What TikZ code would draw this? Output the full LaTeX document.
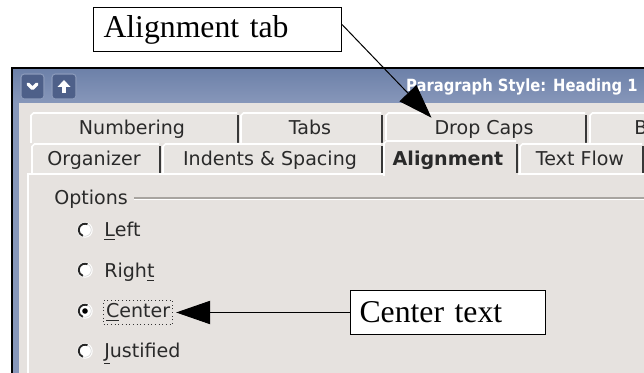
\documentclass[tikz,border=0pt]{standalone}
\usepackage{fontspec}
\setmainfont{Liberation Serif}
\newfontfamily\uifont{DejaVu Sans}
\usetikzlibrary{arrows.meta,calc}
\definecolor{winbg}{HTML}{E6E2DF}
\definecolor{tabbg}{HTML}{E8E5E2}
\definecolor{titletop}{HTML}{6C80A8}
\definecolor{titlebot}{HTML}{8797BA}
\definecolor{btnfill}{HTML}{4E6089}
\definecolor{btnedge}{HTML}{8A99BA}
\definecolor{sepdark}{HTML}{383838}
\definecolor{framedk}{HTML}{A8A4A0}
\definecolor{uitextcol}{HTML}{2A2A2A}
\newcommand\uitabshape[4]{%
  \fill[tabbg] (#1,#4) -- (#1,#2+3) -- (#1+3,#2) -- (#3,#2) -- (#3,#4) -- cycle;
  \draw[white, line width=1.3pt] (#1+1,#4) -- (#1+1,#2+3.5) -- (#1+3.5,#2+1) -- (#3-2,#2+1);
  \draw[sepdark, line width=1.5pt] (#3-1,#2+3) -- (#3-1,#4);
}
\newcommand\radiodeco[2]{%
  \begin{scope}[shift={(#1.center)},x=1pt,y=1pt]
    \fill[white] (0,0) circle (5.8);
    \draw[black!85, line width=1.4pt] (65:4.7) arc[start angle=65,end angle=250,radius=4.7];
    \draw[black!15, line width=0.5pt] (250:4.7) arc[start angle=250,end angle=425,radius=4.7];
    \ifnum#2=1 \fill[black] (0,0) circle (2.1);\fi
  \end{scope}}
\begin{document}
\begin{tikzpicture}[x=0.75pt,y=-0.75pt,
  callout/.style={draw=black, line width=0.75pt, fill=white,
    font=\fontsize{23.8pt}{28pt}\selectfont, anchor=north west, align=left,
    minimum height=33pt, inner ysep=0pt},
  callarrow/.style={draw=black, line width=0.75pt, -{Triangle[length=25.5pt,width=17.5pt]}},
  uitext/.style={font=\uifont\fontsize{14.3pt}{17pt}\selectfont, text=uitextcol, inner sep=0pt, anchor=base},
  uibold/.style={uitext, font=\uifont\bfseries\fontsize{14.3pt}{17pt}\selectfont},
  radio/.style={circle, minimum size=11pt, inner sep=0pt},
  btn/.style={draw=btnedge, fill=btnfill, line width=0.8pt, rounded corners=2.5pt}
]
\useasboundingbox (0,0) rectangle (644,373);
\clip (0,0) rectangle (644,373);
\fill[white] (0,0) rectangle (644,373);

% window body
\fill[winbg] (12,68) rectangle (650,380);
\fill[titlebot] (12,100) rectangle (19,380);
% title bar
\shade[top color=titletop, bottom color=titlebot] (12,68) rectangle (650,103);
\draw[black, line width=0.9pt] (12,380) -- (12,68) -- (650,68);
% buttons
\draw[btn] (21,74) rectangle (44,99);
\draw[btn] (52,74) rectangle (76,99);
\draw[white, line width=2.6pt, line cap=round, line join=round] (28,84) -- (32.5,88.5) -- (37,84);
\fill[white] (57.5,87) -- (64,80) -- (70.5,87) -- cycle;
\fill[white] (62.2,86) rectangle (65.8,93);
\node[font=\uifont\bfseries\fontsize{12.6pt}{14pt}\selectfont, text=white, anchor=base east, inner sep=0pt]
  (title) at (638,92) {\scalebox{0.88}[1]{Paragraph Style: Heading 1}};

% panel edges
\draw[white, line width=1.2pt] (28,380) -- (28,174) -- (384,174);
\draw[white, line width=1.2pt] (517,174) -- (650,174);

% tab row 1
\uitabshape{30}{112}{239}{143}
\uitabshape{240}{112}{383}{143}
\uitabshape{385}{112}{587}{143}
\uitabshape{589}{112}{660}{143}
% tab row 2
\uitabshape{31}{143}{161}{173}
\uitabshape{162}{143}{383}{173}
\uitabshape{519}{143}{644}{173}
\fill[winbg] (383,140) rectangle (518,176);
\draw[white, line width=1.3pt] (384,176) -- (384,143.5) -- (386.5,141) -- (516,141);
\draw[sepdark, line width=1.5pt] (517,144) -- (517,173);

\node[uitext] (tnum) at (132,135) {Numbering};
\node[uitext] (ttabs) at (310,135) {Tabs};
\node[uitext] (tdrop) at (484,135) {Drop Caps};
\node[uitext, anchor=base west] (tb) at (634,135) {B};
\node[uitext] (torg) at (94,166) {Organizer};
\node[uitext] (tind) at (270,166) {Indents \& Spacing};
\node[uibold] (talign) at (448,166) {Alignment};
\node[uitext] (tflow) at (580,166) {Text Flow};

% options frame
\node[uitext, anchor=base west] (opts) at (54,205) {Options};
\draw[framedk, line width=0.8pt] (134,198) -- (650,198);
\draw[white, line width=0.8pt] (134,199.3) -- (650,199.3);

% radio buttons
\node[radio] (rl) at (85,230) {};
\node[radio] (rr) at (85,270) {};
\node[radio] (rc) at (85,311) {};
\node[radio] (rj) at (85,351) {};
\radiodeco{rl}{0}
\radiodeco{rr}{0}
\radiodeco{rc}{1}
\radiodeco{rj}{0}
\node[uitext, anchor=base west] (lleft) at (104,237) {\underline{L}eft};
\node[uitext, anchor=base west] (lright) at (104,278) {Righ\underline{t}};
\node[uitext, anchor=base west, draw=black!80, dotted, line width=0.75pt, inner xsep=1.9pt, inner ysep=2.6pt]
  (lcenter) at (103,318) {\underline{C}enter};
\node[uitext, anchor=base west] (ljust) at (104,358) {\underline{J}ustified};

% callouts
\node[callout, text width=171pt, inner xsep=7.5pt, minimum width=186pt] (atab) at (93,7) {Alignment tab};
\node[callout, text width=132.75pt, inner xsep=6.75pt, minimum width=146.25pt] (ctext) at (350,290) {Center text};

\draw[callarrow, shorten >=3pt] ([yshift=3.75pt]atab.east) -- (tdrop.north west);
\draw[callarrow, shorten >=2.2pt] (ctext.west) -- (ctext.west -| lcenter.east);
\end{tikzpicture}
\end{document}
